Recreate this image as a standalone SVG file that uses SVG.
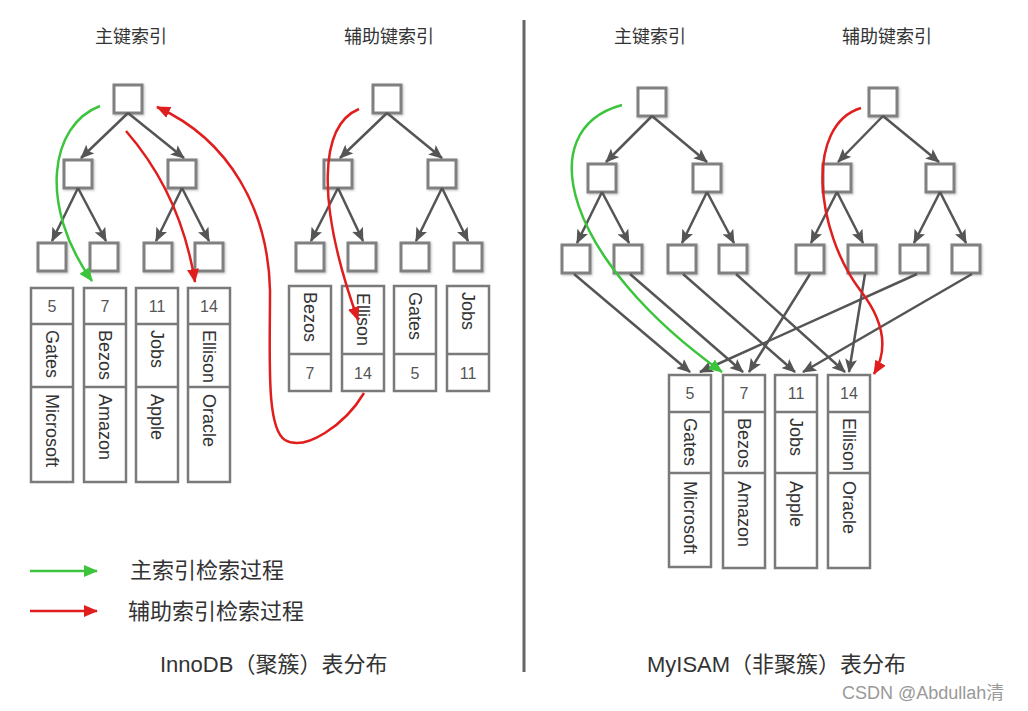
<svg xmlns="http://www.w3.org/2000/svg" width="1028" height="711" viewBox="0 0 1028 711">
<style>
.bx{fill:#fff;stroke:#808080;stroke-width:3;filter:url(#sh)}
.col{fill:#fff;stroke:#7a7a7a;stroke-width:2.5}
.tl{stroke:#555;stroke-width:2.5;fill:none;marker-end:url(#ag)}
.rc{stroke:#e01e1e;stroke-width:2.5;fill:none;marker-end:url(#ar)}
.gc{stroke:#3cc43c;stroke-width:2.5;fill:none;marker-end:url(#agr)}
.num{font-family:"Liberation Sans",Arial,sans-serif;font-size:16px;fill:#555;text-anchor:middle}
.nm{font-family:"Liberation Sans",Arial,sans-serif;font-size:18px;fill:#333;dominant-baseline:central}
.ttl{font-family:"Liberation Sans","Noto Sans CJK SC",sans-serif;font-size:18px;fill:#333;text-anchor:middle}
.lg{font-family:"Liberation Sans","Noto Sans CJK SC",sans-serif;font-size:22px;fill:#333}
.cap{font-family:"Liberation Sans","Noto Sans CJK SC",sans-serif;font-size:22px;fill:#333}
</style>
<defs>
<filter id="sh" x="-20%" y="-20%" width="150%" height="150%"><feDropShadow dx="1" dy="1" stdDeviation="1.2" flood-color="#000" flood-opacity="0.25"/></filter>
<marker id="ag" markerUnits="userSpaceOnUse" markerWidth="14" markerHeight="12" refX="13" refY="6" orient="auto"><path d="M0,0 L14,6 L0,12 L3,6 z" fill="#555"/></marker>
<marker id="ar" markerUnits="userSpaceOnUse" markerWidth="14" markerHeight="12" refX="13" refY="6" orient="auto"><path d="M0,0 L14,6 L0,12 z" fill="#e01e1e"/></marker>
<marker id="agr" markerUnits="userSpaceOnUse" markerWidth="14" markerHeight="12" refX="13" refY="6" orient="auto"><path d="M0,0 L14,6 L0,12 z" fill="#3cc43c"/></marker>
</defs>
<rect width="1028" height="711" fill="#fff"/>

<g id="titles">
<text class="ttl" x="131" y="43">主键索引</text>
<text class="ttl" x="389" y="43">辅助键索引</text>
<text class="ttl" x="650" y="43">主键索引</text>
<text class="ttl" x="887" y="43">辅助键索引</text>
</g>

<line id="divider" x1="524" y1="20" x2="524" y2="672" stroke="#666" stroke-width="3"/>

<g id="innodb-primary-tree">
<rect class="bx" x="114" y="85" width="28" height="28"/>
<rect class="bx" x="64" y="160" width="28" height="28"/>
<rect class="bx" x="168" y="160" width="28" height="28"/>
<rect class="bx" x="38" y="243" width="28" height="28"/>
<rect class="bx" x="90" y="243" width="28" height="28"/>
<rect class="bx" x="144" y="243" width="28" height="28"/>
<rect class="bx" x="195" y="243" width="28" height="28"/>
</g>
<g id="innodb-secondary-tree">
<rect class="bx" x="373" y="85" width="28" height="28"/>
<rect class="bx" x="324" y="160" width="28" height="28"/>
<rect class="bx" x="428" y="160" width="28" height="28"/>
<rect class="bx" x="296" y="243" width="28" height="28"/>
<rect class="bx" x="348" y="243" width="28" height="28"/>
<rect class="bx" x="401" y="243" width="28" height="28"/>
<rect class="bx" x="454" y="243" width="28" height="28"/>
</g>
<g id="myisam-primary-tree">
<rect class="bx" x="638" y="88" width="28" height="28"/>
<rect class="bx" x="588" y="164" width="28" height="28"/>
<rect class="bx" x="693" y="164" width="28" height="28"/>
<rect class="bx" x="562" y="245" width="28" height="28"/>
<rect class="bx" x="614" y="245" width="28" height="28"/>
<rect class="bx" x="668" y="245" width="28" height="28"/>
<rect class="bx" x="719" y="245" width="28" height="28"/>
</g>
<g id="myisam-secondary-tree">
<rect class="bx" x="869" y="88" width="28" height="28"/>
<rect class="bx" x="823" y="164" width="28" height="28"/>
<rect class="bx" x="926" y="164" width="28" height="28"/>
<rect class="bx" x="796" y="245" width="28" height="28"/>
<rect class="bx" x="848" y="245" width="28" height="28"/>
<rect class="bx" x="900" y="245" width="28" height="28"/>
<rect class="bx" x="952" y="245" width="28" height="28"/>
</g>

<g id="innodb-rows">
<g id="row-5"><rect class="col" x="31" y="288" width="42" height="194"/><line x1="31" y1="324" x2="73" y2="324" stroke="#7a7a7a" stroke-width="2.5"/><line x1="31" y1="387" x2="73" y2="387" stroke="#7a7a7a" stroke-width="2.5"/>
<text class="num" x="52" y="312">5</text>
<text class="nm" transform="translate(52,330) rotate(90)">Gates</text>
<text class="nm" transform="translate(52,394) rotate(90)">Microsoft</text></g>
<g id="row-7"><rect class="col" x="84" y="288" width="42" height="194"/><line x1="84" y1="324" x2="126" y2="324" stroke="#7a7a7a" stroke-width="2.5"/><line x1="84" y1="387" x2="126" y2="387" stroke="#7a7a7a" stroke-width="2.5"/>
<text class="num" x="105" y="312">7</text>
<text class="nm" transform="translate(105,330) rotate(90)">Bezos</text>
<text class="nm" transform="translate(105,394) rotate(90)">Amazon</text></g>
<g id="row-11"><rect class="col" x="136" y="288" width="42" height="194"/><line x1="136" y1="324" x2="178" y2="324" stroke="#7a7a7a" stroke-width="2.5"/><line x1="136" y1="387" x2="178" y2="387" stroke="#7a7a7a" stroke-width="2.5"/>
<text class="num" x="157" y="312">11</text>
<text class="nm" transform="translate(157,330) rotate(90)">Jobs</text>
<text class="nm" transform="translate(157,394) rotate(90)">Apple</text></g>
<g id="row-14"><rect class="col" x="188" y="288" width="42" height="194"/><line x1="188" y1="324" x2="230" y2="324" stroke="#7a7a7a" stroke-width="2.5"/><line x1="188" y1="387" x2="230" y2="387" stroke="#7a7a7a" stroke-width="2.5"/>
<text class="num" x="209" y="312">14</text>
<text class="nm" transform="translate(209,330) rotate(90)">Ellison</text>
<text class="nm" transform="translate(209,394) rotate(90)">Oracle</text></g>
</g>

<g id="innodb-secondary-rows">
<g id="sec-bezos"><rect class="col" x="289" y="286" width="42" height="105"/><line x1="289" y1="354" x2="331" y2="354" stroke="#7a7a7a" stroke-width="2.5"/>
<text class="nm" transform="translate(310,292) rotate(90)">Bezos</text><text class="num" x="310" y="379">7</text></g>
<g id="sec-ellison"><rect class="col" x="342" y="286" width="42" height="105"/><line x1="342" y1="354" x2="384" y2="354" stroke="#7a7a7a" stroke-width="2.5"/>
<text class="nm" transform="translate(363,293) rotate(90)">Ellison</text><text class="num" x="363" y="379">14</text></g>
<g id="sec-gates"><rect class="col" x="394" y="286" width="42" height="105"/><line x1="394" y1="354" x2="436" y2="354" stroke="#7a7a7a" stroke-width="2.5"/>
<text class="nm" transform="translate(415,292) rotate(90)">Gates</text><text class="num" x="415" y="379">5</text></g>
<g id="sec-jobs"><rect class="col" x="447" y="286" width="42" height="105"/><line x1="447" y1="354" x2="489" y2="354" stroke="#7a7a7a" stroke-width="2.5"/>
<text class="nm" transform="translate(468,292) rotate(90)">Jobs</text><text class="num" x="468" y="379">11</text></g>
</g>

<g id="myisam-rows">
<g id="m-row-5"><rect class="col" x="669" y="375" width="42" height="192"/><line x1="669" y1="412" x2="711" y2="412" stroke="#7a7a7a" stroke-width="2.5"/><line x1="669" y1="473" x2="711" y2="473" stroke="#7a7a7a" stroke-width="2.5"/>
<text class="num" x="690" y="399">5</text>
<text class="nm" transform="translate(690,418) rotate(90)">Gates</text>
<text class="nm" transform="translate(690,481) rotate(90)">Microsoft</text></g>
<g id="m-row-7"><rect class="col" x="723" y="375" width="42" height="193"/><line x1="723" y1="412" x2="765" y2="412" stroke="#7a7a7a" stroke-width="2.5"/><line x1="723" y1="473" x2="765" y2="473" stroke="#7a7a7a" stroke-width="2.5"/>
<text class="num" x="744" y="399">7</text>
<text class="nm" transform="translate(744,418) rotate(90)">Bezos</text>
<text class="nm" transform="translate(744,481) rotate(90)">Amazon</text></g>
<g id="m-row-11"><rect class="col" x="775" y="375" width="42" height="193"/><line x1="775" y1="412" x2="817" y2="412" stroke="#7a7a7a" stroke-width="2.5"/><line x1="775" y1="473" x2="817" y2="473" stroke="#7a7a7a" stroke-width="2.5"/>
<text class="num" x="796" y="399">11</text>
<text class="nm" transform="translate(796,418) rotate(90)">Jobs</text>
<text class="nm" transform="translate(796,481) rotate(90)">Apple</text></g>
<g id="m-row-14"><rect class="col" x="828" y="375" width="42" height="193"/><line x1="828" y1="412" x2="870" y2="412" stroke="#7a7a7a" stroke-width="2.5"/><line x1="828" y1="473" x2="870" y2="473" stroke="#7a7a7a" stroke-width="2.5"/>
<text class="num" x="849" y="399">14</text>
<text class="nm" transform="translate(849,418) rotate(90)">Ellison</text>
<text class="nm" transform="translate(849,481) rotate(90)">Oracle</text></g>
</g>

<g id="connectors">
<path class="tl" d="M128,113 L81,158"/>
<path class="tl" d="M128,113 L184,158"/>
<path class="tl" d="M78,188 L52,241"/>
<path class="tl" d="M78,188 L106,241"/>
<path class="tl" d="M182,188 L156,241"/>
<path class="tl" d="M182,188 L209,241"/>

<path class="tl" d="M387,113 L340,158"/>
<path class="tl" d="M387,113 L442,158"/>
<path class="tl" d="M338,188 L311,241"/>
<path class="tl" d="M338,188 L363,241"/>
<path class="tl" d="M442,188 L416,241"/>
<path class="tl" d="M442,188 L468,241"/>

<path class="tl" d="M652,116 L606,162"/>
<path class="tl" d="M652,116 L707,162"/>
<path class="tl" d="M602,192 L577,243"/>
<path class="tl" d="M602,192 L629,243"/>
<path class="tl" d="M707,192 L682,243"/>
<path class="tl" d="M707,192 L734,243"/>

<path class="tl" d="M883,116 L838,162"/>
<path class="tl" d="M883,116 L939,162"/>
<path class="tl" d="M837,192 L811,243"/>
<path class="tl" d="M837,192 L863,243"/>
<path class="tl" d="M940,192 L914,243"/>
<path class="tl" d="M940,192 L966,243"/>

<path class="tl" d="M574,274 L690,372"/>
<path class="tl" d="M630,274 L743,372"/>
<path class="tl" d="M683,274 L795,372"/>
<path class="tl" d="M736,274 L845,372"/>
<path class="tl" d="M810,274 L749,372"/>
<path class="tl" d="M865,274 L849,372"/>
<path class="tl" d="M917,274 L700,372"/>
<path class="tl" d="M972,274 L803,372"/>

<path class="gc" d="M100,106 C50,125 38,205 92,281"/>
<path class="rc" d="M126,131 C160,170 185,220 195,282"/>
<path class="rc" d="M359,109 C320,125 315,200 358,320"/>
<path class="rc" d="M364,393 C345,425 305,452 285,440 C266,428 270,360 270,290 C268,210 230,140 157,107"/>
<path class="gc" d="M622,105 C530,130 565,260 722,372"/>
<path class="rc" d="M861,108 C805,125 815,230 860,290 C885,322 888,350 874,374"/>
</g>

<g id="legend">
<path class="gc" d="M30,571 L97,571"/>
<text class="lg" x="130" y="578">主索引检索过程</text>
<path class="rc" d="M30,611 L97,611"/>
<text class="lg" x="128" y="619">辅助索引检索过程</text>
</g>

<g id="captions">
<text class="cap" x="160" y="672">InnoDB（聚簇）表分布</text>
<text class="cap" x="647" y="672">MyISAM（非聚簇）表分布</text>
<text x="842" y="699" font-family="Liberation Sans,Noto Sans CJK SC,sans-serif" font-size="18" fill="#999">CSDN @Abdullah清</text>
</g>
</svg>
